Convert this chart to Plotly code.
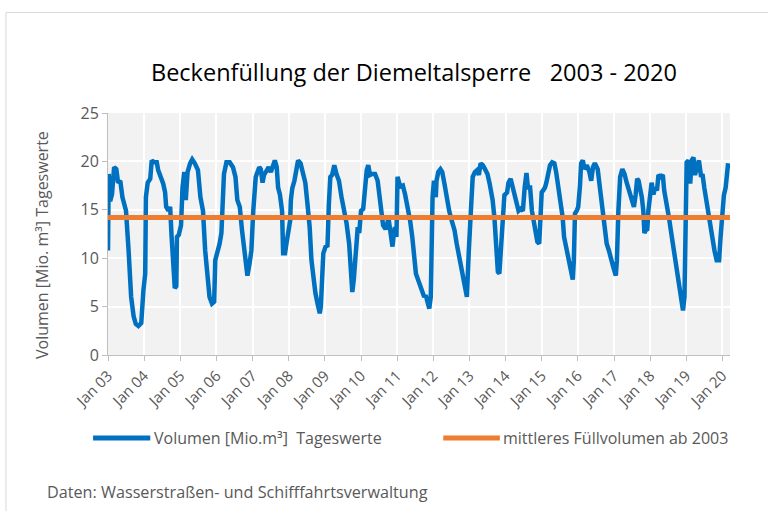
import plotly.graph_objects as go

# Daily storage volume, Mio. m³
dates = [
    "2003-01-01","2003-01-08","2003-01-23","2003-02-10","2003-03-04","2003-03-26","2003-04-13","2003-05-05",
    "2003-05-27","2003-07-02","2003-07-28","2003-08-23","2003-09-17","2003-10-09","2003-11-04","2003-12-03",
    "2003-12-25","2004-01-12","2004-01-19","2004-02-06","2004-03-03","2004-03-18","2004-04-12","2004-05-08",
    "2004-05-22","2004-06-21","2004-07-12","2004-07-31","2004-08-11","2004-09-02","2004-09-20","2004-10-05",
    "2004-10-23","2004-11-06","2004-11-21","2004-11-28","2004-12-16","2005-01-08","2005-01-23","2005-02-10",
    "2005-02-25","2005-03-15","2005-04-10","2005-05-01","2005-05-27",
    "2005-06-28","2005-07-23","2005-08-18","2005-09-09","2005-10-08","2005-10-23","2005-11-17","2005-12-09",
    "2005-12-20","2006-01-12","2006-02-02","2006-02-20","2006-03-10","2006-03-18","2006-04-12","2006-05-15",
    "2006-06-17","2006-07-12","2006-07-31","2006-08-25","2006-09-16","2006-10-08","2006-10-23","2006-11-10",
    "2006-12-02","2006-12-20","2007-01-08","2007-01-19","2007-02-02","2007-02-20","2007-03-10","2007-03-25",
    "2007-04-12","2007-04-27","2007-05-22","2007-06-13","2007-07-05","2007-07-23","2007-08-14","2007-09-02",
    "2007-09-16","2007-10-04","2007-10-26","2007-11-06","2007-11-25","2007-12-09","2007-12-27","2008-01-16",
    "2008-01-23","2008-02-06","2008-02-28","2008-03-21",
    "2008-04-05","2008-04-30","2008-05-26","2008-06-17","2008-07-09","2008-07-31","2008-08-18","2008-09-05",
    "2008-09-27","2008-10-19","2008-11-10","2008-11-21","2008-12-06","2008-12-16","2009-01-08","2009-01-27",
    "2009-02-10","2009-02-25","2009-03-15","2009-04-06","2009-04-28","2009-05-23","2009-06-18","2009-07-13",
    "2009-08-08","2009-09-03","2009-09-21","2009-10-05","2009-10-20","2009-11-07","2009-11-29","2009-12-14",
    "2010-01-01","2010-01-23","2010-02-10","2010-02-28","2010-03-15","2010-04-02","2010-04-24","2010-05-23",
    "2010-06-18","2010-07-10","2010-07-28","2010-08-12","2010-09-06","2010-09-21","2010-10-05","2010-10-20",
    "2010-10-31","2010-11-15","2010-11-29","2010-12-10","2010-12-25","2011-01-05",
    "2011-02-02","2011-02-28","2011-03-22","2011-04-21","2011-05-12","2011-06-03","2011-06-22","2011-07-10",
    "2011-07-31","2011-08-23","2011-09-14","2011-10-02","2011-10-16","2011-11-04","2011-11-22","2011-12-07",
    "2011-12-14","2011-12-25","2012-01-08","2012-01-27","2012-02-03","2012-02-21","2012-03-14","2012-04-01",
    "2012-04-23","2012-05-15","2012-06-10","2012-07-05","2012-08-03","2012-08-25","2012-09-20","2012-10-12",
    "2012-11-03","2012-11-21","2012-12-06","2012-12-24","2013-01-08","2013-01-19","2013-02-03","2013-02-25",
    "2013-03-19","2013-04-06","2013-04-24","2013-05-16","2013-06-07","2013-07-02","2013-07-24","2013-08-23",
    "2013-09-10",
    "2013-09-27","2013-10-15","2013-10-30","2013-11-17","2013-12-06","2013-12-20","2014-01-16","2014-01-30",
    "2014-02-21","2014-03-15","2014-04-02","2014-04-21","2014-05-12","2014-06-03","2014-06-25","2014-07-13",
    "2014-07-31","2014-08-15","2014-09-06","2014-09-24","2014-10-16","2014-11-04","2014-11-18","2014-12-07",
    "2014-12-17","2015-01-01","2015-01-16","2015-02-03","2015-02-17","2015-03-08","2015-03-26","2015-04-17",
    "2015-05-09","2015-05-27","2015-06-18","2015-07-13","2015-08-01","2015-08-15","2015-09-03","2015-09-28",
    "2015-10-20","2015-11-11","2015-11-22","2015-12-03","2015-12-21","2016-01-05","2016-01-23","2016-02-03",
    "2016-02-21","2016-03-07","2016-04-01","2016-04-27","2016-05-15","2016-06-02",
    "2016-06-21","2016-07-20","2016-08-11","2016-09-05","2016-09-23","2016-10-19","2016-11-10","2016-12-02",
    "2016-12-24","2017-01-19","2017-01-30","2017-02-14","2017-03-04","2017-03-26","2017-04-17","2017-05-09",
    "2017-06-03","2017-06-29","2017-07-21","2017-08-08","2017-08-23","2017-09-06","2017-09-21","2017-10-09",
    "2017-10-24","2017-11-04","2017-11-18","2017-12-03","2017-12-14","2018-01-01","2018-01-16","2018-02-03",
    "2018-02-21","2018-03-11","2018-03-26","2018-04-17","2018-05-09","2018-05-23","2018-06-18","2018-07-10",
    "2018-08-08","2018-09-03","2018-09-28","2018-10-20","2018-11-11","2018-11-29","2018-12-14","2018-12-25",
    "2019-01-05","2019-01-23","2019-02-10","2019-02-25","2019-03-15","2019-03-30","2019-04-17","2019-05-09",
    "2019-05-31","2019-06-14","2019-07-02","2019-07-28","2019-08-19","2019-09-17","2019-10-13","2019-11-04",
    "2019-11-29","2019-12-14","2020-01-01","2020-01-16","2020-02-03","2020-02-17","2020-02-28",
]
volume = [
    10.8,18.7,15.9,16.6,19.4,19.2,17.8,18.0,
    16.3,14.9,10.8,6.0,4.0,3.2,3.0,3.3,
    6.7,8.4,16.3,17.8,18.2,20.1,19.9,19.9,
    19.1,18.4,17.7,16.8,15.3,14.9,15.3,12.2,
    8.1,6.9,7.1,12.2,12.4,13.4,17.3,18.9,
    16.0,18.9,19.8,20.2,19.8,
    19.1,16.3,14.9,10.8,7.4,6.0,5.3,5.5,
    9.8,10.5,11.5,12.6,16.0,18.7,19.9,19.9,
    19.4,18.4,16.0,15.3,12.9,10.8,8.9,8.2,
    9.5,10.8,14.9,16.5,18.4,18.9,19.4,19.2,
    17.8,18.6,19.1,19.4,18.9,19.6,20.1,19.4,
    17.3,16.6,14.9,10.5,10.5,11.5,12.9,13.9,
    16.0,17.2,18.0,19.8,
    20.1,19.8,18.4,17.8,15.6,13.2,9.8,8.1,
    6.4,5.3,4.3,5.0,8.1,10.5,11.2,11.3,
    15.6,18.4,18.6,19.6,18.7,18.0,16.3,14.9,
    13.6,11.5,8.8,6.5,7.8,10.8,13.2,12.6,
    14.9,15.1,18.0,19.1,19.6,18.6,18.7,18.7,
    18.0,16.3,14.2,13.4,13.0,13.4,14.2,12.9,
    12.2,11.2,12.6,13.2,12.2,18.4,
    17.4,17.5,16.6,15.3,13.9,12.2,10.5,8.4,
    7.8,7.2,6.5,6.0,6.2,5.5,4.8,6.0,
    11.5,16.3,18.0,16.3,18.0,18.9,19.2,18.9,
    17.7,16.3,14.9,13.9,12.9,11.5,10.1,9.1,
    8.1,7.1,6.0,10.5,15.3,15.6,18.4,18.9,
    19.1,18.6,19.8,19.6,19.2,18.7,17.7,16.0,
    14.2,
    11.5,8.6,8.4,11.5,13.9,16.5,16.8,17.8,
    18.2,17.3,16.3,15.3,14.9,15.1,14.9,17.3,
    18.8,17.3,17.3,14.9,13.6,12.2,11.7,11.5,
    13.9,16.8,17.0,17.3,17.8,18.9,19.6,19.9,
    19.8,18.9,17.3,16.0,14.2,12.2,11.2,10.1,
    8.8,7.8,9.8,14.6,14.9,15.3,17.5,19.8,
    20.1,19.2,19.6,18.9,18.0,19.4,
    19.8,19.2,17.3,15.3,13.6,11.5,10.8,9.8,
    9.1,8.2,9.8,14.9,18.4,19.2,18.7,17.8,
    17.0,16.3,15.3,16.6,18.2,18.0,17.3,16.3,
    14.9,12.6,12.9,13.0,14.9,16.6,17.8,16.6,
    17.3,17.0,18.6,18.4,18.6,17.0,15.6,14.2,
    12.2,10.5,8.8,7.1,5.8,4.6,6.0,13.3,
    19.9,20.1,17.7,20.1,20.4,18.6,19.4,20.1,
    18.4,18.7,17.3,15.6,13.9,12.2,10.8,9.8,
    9.8,12.2,15.3,16.5,17.3,19.1,19.8,
]

mean_volume = 14.2
mean_span = ["2003-01-01", "2020-03-18"]

series_names = ["Volumen [Mio.m³]  Tageswerte", "mittleres Füllvolumen ab 2003"]
series_colors = ["#0070C0", "#ED7D31"]
title_text = "Beckenfüllung der Diemeltalsperre   2003 - 2020"
y_title = "Volumen [Mio. m³] Tageswerte"
source_text = "Daten: Wasserstraßen- und Schifffahrtsverwaltung"

FONT = "'Open Sans', Lato, sans-serif"
GREY = "#595959"

fig = go.Figure()
fig.add_trace(go.Scatter(
    x=dates, y=volume, mode="lines", name=series_names[0], showlegend=False,
    line=dict(color=series_colors[0], width=4.5),
))
fig.add_trace(go.Scatter(
    x=mean_span, y=[mean_volume, mean_volume], mode="lines", name=series_names[1], showlegend=False,
    line=dict(color=series_colors[1], width=5),
))

# manual legend (line sample + label), positioned in paper coordinates
legend_x = [(-0.024, 0.068), (0.539, 0.630)]
legend_y = -0.343
shapes = [dict(type="rect", xref="paper", yref="paper", x0=-0.164, x1=1.12, y0=-0.75, y1=1.415,
               line=dict(color="#d9d9d9", width=1), fillcolor="rgba(0,0,0,0)", layer="below")]
annotations = []
for (x0, x1), name, col in zip(legend_x, series_names, series_colors):
    shapes.append(dict(type="line", xref="paper", yref="paper", x0=x0, x1=x1, y0=legend_y, y1=legend_y,
                       line=dict(color=col, width=5)))
    annotations.append(dict(text=name, xref="paper", yref="paper", x=x1 + 0.002, y=legend_y,
                            xanchor="left", yanchor="middle", showarrow=False,
                            font=dict(family=FONT, size=16, color=GREY)))

annotations.append(dict(text=source_text, xref="paper", yref="paper", x=-0.101, y=-0.566,
                        xanchor="left", yanchor="middle", showarrow=False,
                        font=dict(family=FONT, size=16.2, color=GREY)))
annotations.append(dict(text=y_title, xref="paper", yref="paper", x=-0.106, y=0.455, textangle=-90,
                        xanchor="center", yanchor="middle", showarrow=False,
                        font=dict(family=FONT, size=16, color=GREY)))

fig.update_layout(
    width=768, height=511,
    margin=dict(l=108, r=38, t=113, b=156),
    paper_bgcolor="white",
    plot_bgcolor="#f2f2f2",
    font=dict(family=FONT, color=GREY, size=15),
    title=dict(text=title_text, xref="container", x=0.539, xanchor="center",
               yref="container", y=0.857, yanchor="middle",
               font=dict(family=FONT, size=23.5, color="#000000")),
    showlegend=False,
    shapes=shapes,
    annotations=annotations,
)

fig.update_xaxes(
    type="date", range=["2003-01-01", "2020-03-18"],
    tick0="2003-01-01", dtick="M12", tickformat="%b %y", tickangle=-45,
    showgrid=True, gridcolor="white", gridwidth=2,
    showline=True, linecolor="#bfbfbf", ticks="outside", ticklen=5, tickcolor="#bfbfbf",
    tickfont=dict(family=FONT, size=15, color=GREY),
)
fig.update_yaxes(
    range=[0, 25], dtick=5,
    showgrid=True, gridcolor="white", gridwidth=2, zeroline=False,
    showline=True, linecolor="#bfbfbf", ticks="outside", ticklen=5, tickcolor="#bfbfbf",
    tickfont=dict(family=FONT, size=16, color=GREY),
)

fig.write_html("out.html", config={"displayModeBar": False},
               post_script="document.body.style.margin='0';")
